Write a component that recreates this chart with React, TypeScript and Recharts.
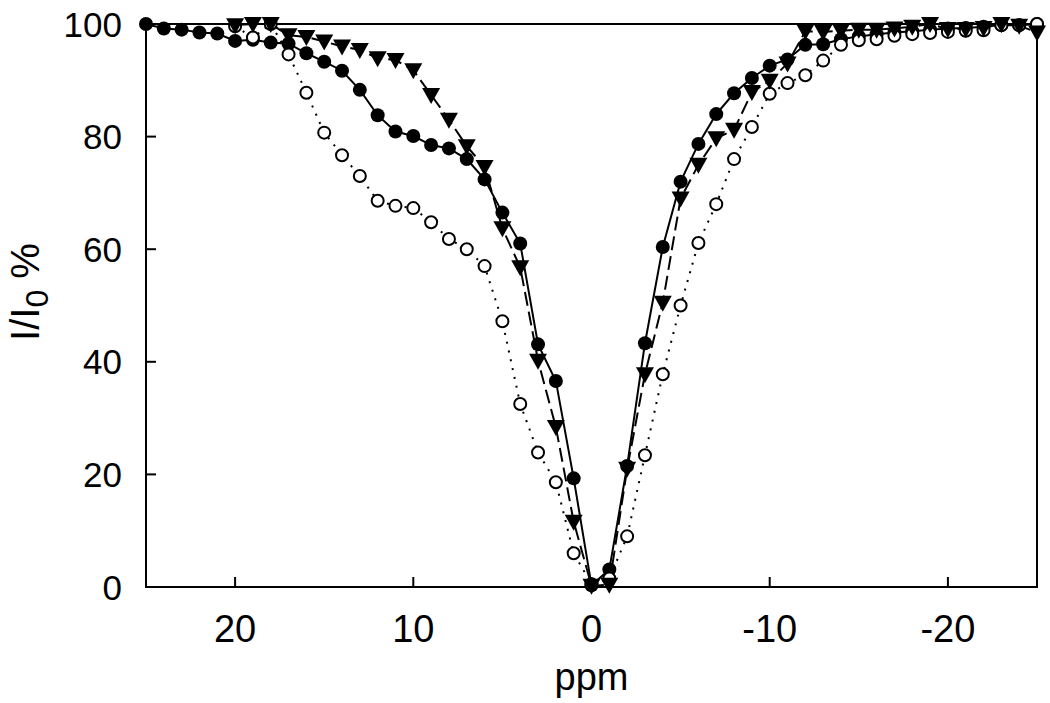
import { LineChart, Line, XAxis, YAxis, ReferenceArea } from 'recharts';

// chemical shift offsets (ppm)
const ppmFull = [
  25, 24, 23, 22, 21, 20, 19, 18, 17, 16, 15, 14, 13, 12, 11, 10, 9, 8, 7, 6, 5, 4, 3, 2, 1, 0,
  -1, -2, -3, -4, -5, -6, -7, -8, -9, -10, -11, -12, -13, -14, -15, -16, -17, -18, -19, -20,
  -21, -22, -23, -24, -25,
];
const ppmShort = ppmFull.slice(5);

// filled circles, solid line
const filledValues = [
  100, 99.2, 99.0, 98.5, 98.3, 97.0, 97.2, 96.7, 96.5, 94.8, 93.3, 91.7, 88.3, 83.8, 80.9, 80.1,
  78.5, 77.9, 76.0, 72.4, 66.5, 61.0, 43.1, 36.6, 19.3, 0.3, 3.1, 21.5, 43.3, 60.4, 72.0, 78.7,
  84.0, 87.7, 90.4, 92.6, 93.7, 96.3, 96.4, 97.3, 97.8, 98.2, 98.5, 98.7, 99.0, 99.2, 99.3, 99.5,
  99.8, 99.8, 100,
];

// open circles, dotted line
const openValues = [
  99.6, 97.6, 100, 94.6, 87.8, 80.7, 76.7, 73.0, 68.6, 67.7, 67.3, 64.8, 61.8, 60.0, 57.0, 47.2,
  32.5, 23.9, 18.6, 6.0, 0.5, 1.5, 9.0, 23.4, 37.8, 50.0, 61.1, 68.0, 76.0, 81.7, 87.6, 89.5,
  90.9, 93.5, 96.3, 97.1, 97.3, 97.9, 98.2, 98.4, 98.6, 98.8, 98.9, 99.8, 99.8, 100,
];

// triangles, dashed line
const triangleValues = [
  99.8, 100, 100, 98.0, 97.7, 96.9, 96.0, 95.4, 93.9, 93.6, 91.8, 87.4, 83.0, 78.3, 74.6, 63.7,
  56.8, 40.2, 28.4, 11.6, 0.2, 0.4, 21.0, 37.8, 50.5, 69.0, 75.0, 79.7, 81.2, 87.9, 89.9, 93.0,
  98.7, 98.6, 98.8, 99.0, 99.0, 99.2, 99.5, 100, 99.1, 99.1, 99.3, 100, 99.7, 98.5,
];

const xTicks = [20, 10, 0, -10, -20];
const yTicks = [0, 20, 40, 60, 80, 100];

const filledData = ppmFull.map((x, i) => ({ x, y: filledValues[i] }));
const openData = ppmShort.map((x, i) => ({ x, y: openValues[i] }));
const triangleData = ppmShort.map((x, i) => ({ x, y: triangleValues[i] }));

const FONT = '"Liberation Sans", Arial, Helvetica, sans-serif';

const XTick = ({ x, y, payload }: any) => (
  <g>
    <line x1={x} y1={y} x2={x} y2={y - 10} stroke="#000" strokeWidth={2} />
    <text x={x} y={y + 55} textAnchor="middle" fontSize={38} fontFamily={FONT} fill="#000">
      {payload.value}
    </text>
  </g>
);

const YTick = ({ x, y, payload }: any) => (
  <g>
    <line x1={x} y1={y} x2={x + 10} y2={y} stroke="#000" strokeWidth={2} />
    <text x={x - 24} y={y + 12.5} textAnchor="end" fontSize={35} fontFamily={FONT} fill="#000">
      {payload.value}
    </text>
  </g>
);

const YLabel = () => (
  <text
    x={39}
    y={292}
    transform="rotate(-90, 39, 292)"
    textAnchor="middle"
    fontSize={40}
    fontFamily={FONT}
    fill="#000"
  >
    <tspan>I/I</tspan>
    <tspan fontSize={32} dy={9}>0</tspan>
    <tspan dy={-9}> %</tspan>
  </text>
);

const XLabel = ({ viewBox }: any) => (
  <text
    x={viewBox.x + viewBox.width / 2}
    y={690}
    textAnchor="middle"
    fontSize={38}
    fontFamily={FONT}
    fill="#000"
  >
    ppm
  </text>
);

const FilledDot = ({ cx, cy }: any) => <circle cx={cx} cy={cy} r={7} fill="#000" />;
const OpenDot = ({ cx, cy }: any) => (
  <circle cx={cx} cy={cy} r={6} fill="#fff" stroke="#000" strokeWidth={2} />
);
const TriangleDot = ({ cx, cy }: any) => (
  <polygon points={`${cx - 9},${cy - 7} ${cx + 9},${cy - 7} ${cx},${cy + 9}`} fill="#000" />
);

export default function App() {
  return (
    <div style={{ position: 'absolute', left: 0, top: 0, background: '#fff' }}>
      <LineChart width={1050} height={703} margin={{ top: 24, right: 13, left: 0, bottom: 0 }}>
        <XAxis
          dataKey="x"
          type="number"
          domain={[-25, 25]}
          reversed
          ticks={xTicks}
          height={116}
          tickSize={0}
          tickMargin={0}
          tickLine={false}
          tick={<XTick />}
          axisLine={{ stroke: '#000', strokeWidth: 2 }}
          label={<XLabel />}
        />
        <YAxis
          type="number"
          domain={[0, 100]}
          ticks={yTicks}
          width={146}
          tickSize={0}
          tickMargin={0}
          tickLine={false}
          tick={<YTick />}
          axisLine={{ stroke: '#000', strokeWidth: 2 }}
          label={<YLabel />}
        />
        <ReferenceArea x1={25} x2={-25} y1={0} y2={100} fill="none" stroke="#000" strokeWidth={2} />
        <Line
          data={filledData}
          dataKey="y"
          stroke="#000"
          strokeWidth={2}
          dot={<FilledDot />}
          activeDot={false}
          isAnimationActive={false}
        />
        <Line
          data={openData}
          dataKey="y"
          stroke="#000"
          strokeWidth={2}
          strokeDasharray="2 7"
          dot={<OpenDot />}
          activeDot={false}
          isAnimationActive={false}
        />
        <Line
          data={triangleData}
          dataKey="y"
          stroke="#000"
          strokeWidth={2}
          strokeDasharray="14 6"
          dot={<TriangleDot />}
          activeDot={false}
          isAnimationActive={false}
        />
      </LineChart>
    </div>
  );
}
